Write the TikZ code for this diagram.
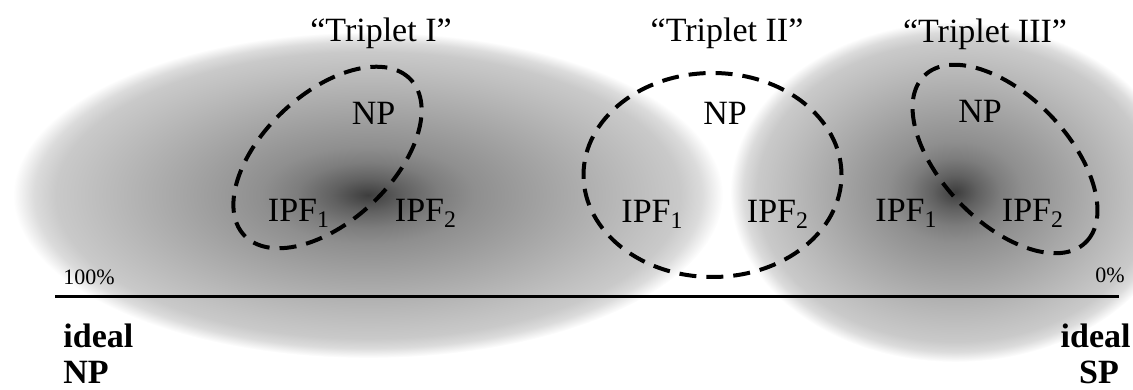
\documentclass[tikz,border=0pt]{standalone}
\usepackage{fontspec}
\setmainfont{Liberation Serif}
\usetikzlibrary{positioning}

\pgfdeclareradialshading{blobshade}{\pgfpointorigin}{%
  color(0bp)=(black!76); color(2.5bp)=(black!62); color(5bp)=(black!51);
  color(7.5bp)=(black!44); color(12.5bp)=(black!36); color(17.5bp)=(black!28);
  color(22bp)=(black!21); color(23.5bp)=(black!14); color(25bp)=(white);
  color(50bp)=(white)}

\begin{document}
\begin{tikzpicture}
  [x=0.5pt,y=0.5pt,
   lbl/.style={inner sep=0pt,anchor=base,font=\fontsize{17}{19}\selectfont},
   pct/.style={inner sep=0pt,font=\fontsize{11}{13}\selectfont},
   endlbl/.style={inner sep=0pt,font=\fontsize{17}{19}\selectfont\bfseries},
   triplet/.style={line width=2pt,dash pattern=on 8.5pt off 5pt}]
  \useasboundingbox (0,0) rectangle (1133,390);
  \clip (0,0) rectangle (1133,390);

  % grey clouds
  \shade[shading=blobshade] (368,195) ellipse [x radius=355,y radius=163];
  \shade[shading=blobshade] (955,198) ellipse [x radius=225,y radius=170];

  % triplets
  \coordinate (c1) at (327.5,232.5);
  \coordinate (c2) at (712.5,215);
  \coordinate (c3) at (1005,231);
  \draw[triplet,rotate around={43:(c1)}] (c1) ellipse [x radius=114,y radius=64];
  \draw[triplet] (c2) ellipse [x radius=129,y radius=102];
  \draw[triplet,rotate around={-46:(c3)}] (c3) ellipse [x radius=116,y radius=63];

  \node[lbl] (t1) at (381,348) {“Triplet I”};
  \node[lbl] (t2) at (727,348) {“Triplet II”};
  \node[lbl] (t3) at (985,347) {“Triplet III”};

  \node[lbl] (np1) at (373.5,265) {NP};
  \node[lbl] (ipfa1) at (299,168) {IPF\textsubscript{1}};
  \node[lbl] (ipfb1) at (426,168) {IPF\textsubscript{2}};
  \node[lbl] (np2) at (725,265) {NP};
  \node[lbl] (ipfa2) at (652.5,167) {IPF\textsubscript{1}};
  \node[lbl] (ipfb2) at (778,167) {IPF\textsubscript{2}};
  \node[lbl] (np3) at (980,267) {NP};
  \node[lbl] (ipfa3) at (906.5,168) {IPF\textsubscript{1}};
  \node[lbl] (ipfb3) at (1033,168) {IPF\textsubscript{2}};

  % axis
  \coordinate (axl) at (55,93);
  \coordinate (axr) at (1119,93);
  \draw[line width=1.5pt] (axl) -- (axr);
  \node[pct,anchor=base west] (full) at (63,105) {100\%};
  \node[pct,anchor=base east] (none) at (1125,107) {0\%};

  \node[endlbl,anchor=base west] (idealnp) at (63,42) {ideal};
  \node[endlbl,anchor=base west] (np) at (63,6) {NP};
  \node[endlbl,anchor=base east] (idealsp) at (1131,42) {ideal};
  \node[endlbl,anchor=base] (sp) at (1099,6) {SP};
\end{tikzpicture}
\end{document}
